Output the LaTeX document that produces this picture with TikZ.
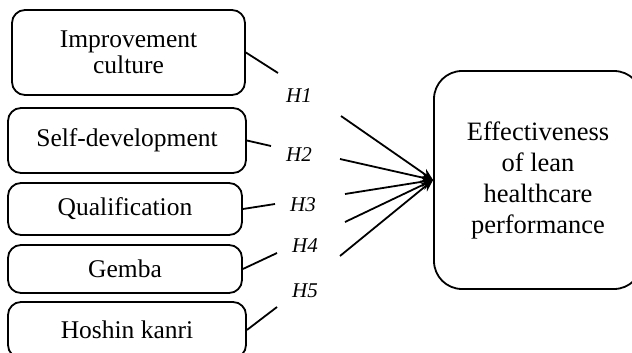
\documentclass[tikz,border=0pt]{standalone}
\usepackage{fontspec}
\setmainfont{Liberation Serif}
\usetikzlibrary{arrows.meta}
\begin{document}
\begin{tikzpicture}[x=1pt,y=-1pt,
  box/.style={draw,line width=1.8pt,rounded corners=13pt,align=center,inner sep=0pt,
    font=\fontsize{25.5}{26}\selectfont},
  big/.style={draw,line width=1.8pt,rounded corners=28pt,align=center,inner sep=0pt,
    font=\fontsize{26.5}{31}\selectfont},
  hlab/.style={font=\fontsize{21}{24}\selectfont\itshape,inner sep=0pt},
  link/.style={line width=1.8pt},
  conv/.style={line width=1.8pt,-{Stealth[length=12pt,width=10pt]}}]
\useasboundingbox (0,0) rectangle (632,353);
\clip (0,0) rectangle (632,353);
\node[box,minimum width=233pt,minimum height=85pt] (b1) at (128.5,52.5) {Improvement\\culture};
\node[box,minimum width=238pt,minimum height=65pt] (b2) at (127,140.5) {Self-development};
\node[box,minimum width=234pt,minimum height=52pt] (b3) at (125,209) {Qualification};
\node[box,minimum width=234pt,minimum height=48pt] (b4) at (125,269) {Gemba};
\node[box,minimum width=238pt,minimum height=56pt] (b5) at (127,330) {Hoshin kanri};
\node[big,minimum width=208pt,minimum height=218pt] (t) at (538,180) {Effectiveness\\of lean\\healthcare\\performance};
\node[hlab] (h1) at (299,96) {H1};
\node[hlab] (h2) at (299,155) {H2};
\node[hlab] (h3) at (303,205) {H3};
\node[hlab] (h4) at (305,246) {H4};
\node[hlab] (h5) at (305,291) {H5};
\coordinate (e1) at (278,73);
\coordinate (e2) at (271,146);
\coordinate (e3) at (275,204);
\coordinate (e4) at (277,253);
\coordinate (e5) at (277,307);
\coordinate (s1) at (341,116);
\coordinate (s2) at (340,159);
\coordinate (s3) at (345,194);
\coordinate (s4) at (345,222);
\coordinate (s5) at (340,256);
\draw[link] (b1.east) -- (e1);
\draw[link] (b2.east) -- (e2);
\draw[link] (b3.east) -- (e3);
\draw[link] (b4.east) -- (e4);
\draw[link] (b5.east) -- (e5);
\foreach \s in {s1,s2,s3,s4,s5}
  \draw[conv] (\s) -- (t.west);
\end{tikzpicture}
\end{document}
